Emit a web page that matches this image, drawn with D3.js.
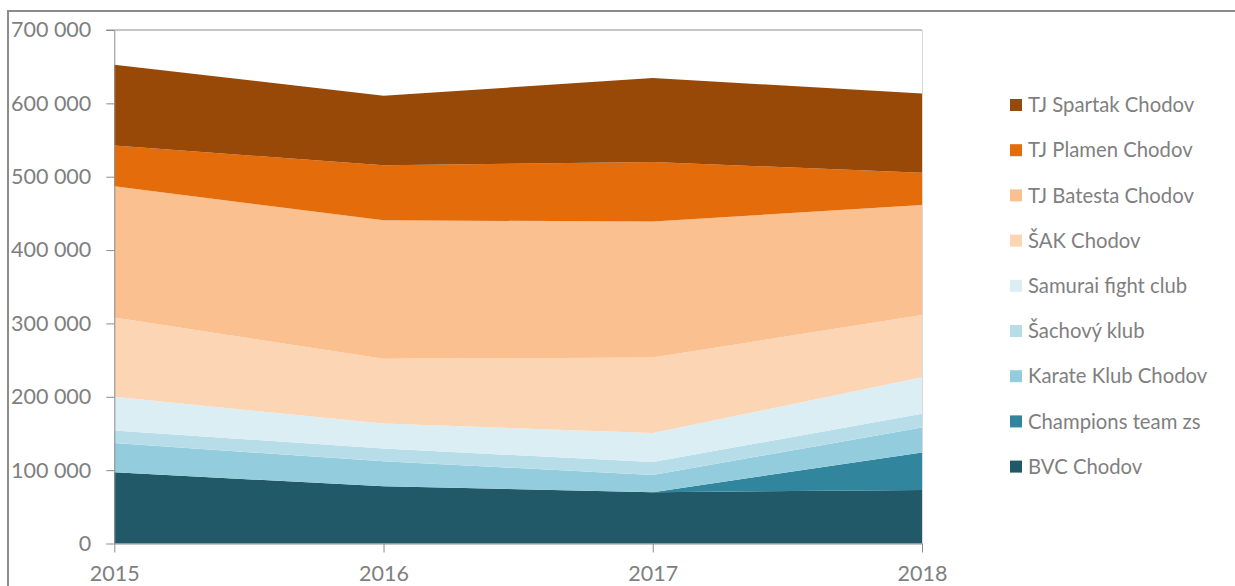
<!DOCTYPE html>
<html>
<head>
<meta charset="utf-8">
<script src="https://cdn.jsdelivr.net/npm/d3@7"></script>
<style>
  body { margin: 0; background: #fff; }
  svg { display: block; font-family: Lato, "Open Sans", sans-serif; }
</style>
</head>
<body>
<div class="chart"></div>
<script>
// 데이터
const years = ['2015', '2016', '2017', '2018'];
const seriesNames = ['BVC Chodov', 'Champions team zs', 'Karate Klub Chodov', 'Šachový klub',
  'Samurai fight club', 'ŠAK Chodov', 'TJ Batesta Chodov', 'TJ Plamen Chodov', 'TJ Spartak Chodov'];
const bvc = [97000, 78000, 70000, 73000];
const champions = [0, 0, 0, 51000];
const karate = [40000, 34000, 23500, 34000];
const sachovy = [17000, 17500, 17500, 19000];
const samurai = [46000, 34000, 39500, 49500];
const sak = [108000, 88500, 103000, 85000];
const batesta = [179000, 188500, 185500, 150000];
const plamen = [55500, 75000, 81000, 44000];
const spartak = [110000, 95000, 114500, 108000];
const yTicks = [0, 100000, 200000, 300000, 400000, 500000, 600000, 700000];

const seriesValues = [bvc, champions, karate, sachovy, samurai, sak, batesta, plamen, spartak];
const colors = ['#215968', '#31859c', '#93cddd', '#b7dee8', '#dbeef4',
  '#fcd5b5', '#fac090', '#e46c0a', '#984807'];

const W = 1235, H = 586;
const Margin = {top: 30, left: 114.3, right: 313, bottom: 42.5};
const textColor = '#7f7f7f';
const lineColor = '#8c8c8c';

// 표 형태로 변환
const table = years.map((y, i) => {
  const row = {year: y};
  seriesNames.forEach((s, j) => row[s] = seriesValues[j][i]);
  return row;
});

const svg = d3.select('.chart').append('svg')
  .attr('width', W)
  .attr('height', H);

// 바깥 테두리
svg.append('rect')
  .attr('x', 8).attr('y', 11)
  .attr('width', W + 20).attr('height', H + 20)
  .attr('fill', 'none')
  .attr('stroke', lineColor)
  .attr('stroke-width', 2);

const xScale = d3.scalePoint(years, [Margin.left, W - Margin.right]);
const yScale = d3.scaleLinear([0, 700000], [H - Margin.bottom, Margin.top]);

const stack = d3.stack().keys(seriesNames);
const layers = stack(table);

const area = d3.area()
  .x(d => xScale(d.data.year))
  .y0(d => yScale(d[0]))
  .y1(d => yScale(d[1]));

svg.append('g')
  .selectAll('path')
  .data(layers)
  .join('path')
    .attr('fill', (d, i) => colors[i])
    .attr('d', area);

// 눈금 형식 (공백 천단위)
const locale = d3.formatLocale({decimal: ',', thousands: '\u00a0', grouping: [3], currency: ['', '']});
const fmt = locale.format(',d');

// y축
svg.append('g')
  .attr('transform', `translate(${Margin.left},0)`)
  .call(d3.axisLeft(yScale).tickValues(yTicks).tickFormat(fmt).tickSize(8).tickSizeOuter(0).tickPadding(15))
  .call(g => g.select('.domain').attr('stroke', lineColor))
  .call(g => g.selectAll('.tick line').attr('stroke', lineColor))
  .selectAll('text')
    .attr('fill', textColor)
    .attr('font-size', '21.5px')
    .attr('font-family', 'Lato, sans-serif');

// 상단, 오른쪽 선
svg.append('line')
  .attr('x1', Margin.left - 8).attr('x2', W - Margin.right)
  .attr('y1', Margin.top).attr('y2', Margin.top)
  .attr('stroke', lineColor);
svg.append('line')
  .attr('x1', W - Margin.right + 0.5).attr('x2', W - Margin.right + 0.5)
  .attr('y1', Margin.top).attr('y2', H - Margin.bottom)
  .attr('stroke', '#d9d9d9');

// x축
svg.append('g')
  .attr('transform', `translate(0,${H - Margin.bottom})`)
  .call(d3.axisBottom(xScale).tickSize(9).tickSizeOuter(0).tickPadding(13))
  .call(g => g.select('.domain').attr('stroke', lineColor))
  .call(g => g.selectAll('.tick line').attr('stroke', lineColor))
  .selectAll('text')
    .attr('fill', textColor)
    .attr('font-size', '21.5px')
    .attr('font-family', 'Lato, sans-serif');

// 범례 (위에서 아래로: 역순)
const legendItems = seriesNames.map((s, i) => ({name: s, color: colors[i]})).reverse();
const legend = svg.append('g')
  .selectAll('g')
  .data(legendItems)
  .join('g')
    .attr('transform', (d, i) => `translate(1010, ${105 + i * 45.2})`);
legend.append('rect')
  .attr('x', 0).attr('y', -6)
  .attr('width', 12).attr('height', 12)
  .attr('fill', d => d.color);
legend.append('text')
  .attr('x', 18)
  .attr('y', 0)
  .attr('dy', '0.35em')
  .attr('fill', textColor)
  .attr('font-size', '20.3px')
  .text(d => d.name);
</script>
</body>
</html>
